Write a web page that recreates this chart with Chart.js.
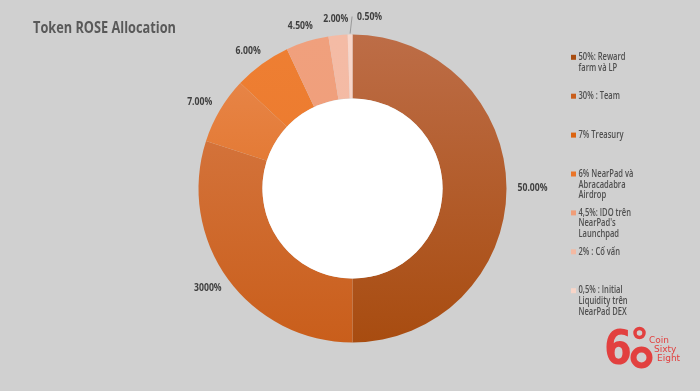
<!DOCTYPE html>
<html>
<head>
<meta charset="utf-8">
<script src="https://cdn.jsdelivr.net/npm/chart.js@4.4.0/dist/chart.umd.min.js"></script>
<style>
html,body{margin:0;padding:0;background:#d0d0d0;}
#wrap{position:relative;width:700px;height:391px;}
</style>
</head>
<body>
<div id="wrap"><canvas id="c" width="700" height="391"></canvas></div>
<script>
// ---- data ----
const titleText = "Token ROSE Allocation";
const categories = [
  ["50%: Reward", "farm và LP"],
  ["30% : Team"],
  ["7% Treasury"],
  ["6% NearPad và", "Abracadabra", "Airdrop"],
  ["4,5%: IDO trên", "NearPad's", "Launchpad"],
  ["2% : Cố vấn"],
  ["0,5% : Initial", "Liquidity trên", "NearPad DEX"]
];
const values = [50, 30, 7, 6, 4.5, 2, 0.5];
const valueLabels = ["50.00%", "3000%", "7.00%", "6.00%", "4.50%", "2.00%", "0.50%"];
const colorsTop = ["#bd6d47", "#d97d4a", "#e98a50", "#ee7f33", "#f0a07d", "#f4bba5", "#f8d6ca"];
const colorsBottom = ["#a84c10", "#c95e1b", "#dc6410", "#ea7528", "#f09d78", "#f4b9a2", "#f8d5c8"];

const ctxEl = document.getElementById('c');

function sliceColor(c) {
  const chart = c.chart;
  const a = chart.chartArea;
  if (!a) return colorsBottom[c.dataIndex];
  const g = chart.ctx.createLinearGradient(0, a.top, 0, a.bottom);
  g.addColorStop(0, colorsTop[c.dataIndex]);
  g.addColorStop(1, colorsBottom[c.dataIndex]);
  return g;
}

const decor = {
  id: 'decor',
  afterDatasetsDraw(chart) {
    const ctx = chart.ctx;
    const meta = chart.getDatasetMeta(0);
    ctx.save();
    // white hole
    const a0 = meta.data[0].getProps(['x', 'y', 'innerRadius'], true);
    ctx.fillStyle = "#ffffff";
    ctx.beginPath();
    ctx.arc(a0.x, a0.y, a0.innerRadius, 0, Math.PI * 2);
    ctx.fill();

    // value labels
    ctx.font = "bold 10.5px 'Open Sans', sans-serif";
    const vr = 30 / ctx.measureText("50.00%").width;
    ctx.fillStyle = "#3f3f3f";
    ctx.textAlign = "center";
    ctx.textBaseline = "middle";
    meta.data.forEach((arc, i) => {
      const p = arc.getProps(['x', 'y', 'startAngle', 'endAngle', 'outerRadius'], true);
      const mid = (p.startAngle + p.endAngle) / 2;
      const dx = Math.cos(mid), dy = Math.sin(mid);
      const txt = valueLabels[i];
      const w = ctx.measureText(txt).width * vr;
      const h = 10;
      if (i === values.length - 1) {
        const sx = p.x + dx * p.outerRadius, sy = p.y + dy * p.outerRadius;
        ctx.strokeStyle = "#8c8c8c";
        ctx.lineWidth = 0.8;
        ctx.beginPath();
        ctx.moveTo(sx, sy - 1);
        ctx.lineTo(sx + 2, sy - 18);
        ctx.stroke();
        ctx.fillText(txt, sx + 7 + w / 2, sy - 17.5, w);
        return;
      }
      const ar = p.outerRadius + 11;
      const ax = p.x + dx * ar, ay = p.y + dy * ar;
      ctx.fillText(txt, ax + dx * w / 2, ay + dy * h / 2, w);
    });

    // title
    ctx.font = "bold 15.5px 'Open Sans', sans-serif";
    ctx.fillStyle = "#595959";
    ctx.textAlign = "left";
    ctx.fillText(titleText, 33, 28.5, 143);

    // legend
    ctx.font = "600 9.8px 'Open Sans', sans-serif";
    const ref = ctx.measureText(categories[0][0]).width;
    const ratio = Math.min(1, 47 / ref);
    const startY = 57.3, step = 38.9, lh = 10.8;
    categories.forEach((lines, i) => {
      const y0 = startY + i * step;
      ctx.fillStyle = colorsBottom[i];
      ctx.fillRect(571, y0 - 2.5, 5, 5);
      ctx.fillStyle = "#4f4f4f";
      lines.forEach((ln, j) => {
        const mw = ctx.measureText(ln).width * ratio;
        ctx.fillText(ln, 578.5, y0 + j * lh, mw);
      });
    });

    // logo
    const red = "#e2403f";
    ctx.fillStyle = red;
    ctx.font = "bold 48px 'DejaVu Sans', sans-serif";
    ctx.textAlign = "left";
    ctx.textBaseline = "alphabetic";
    ctx.fillText("6", 604, 364, 28);
    ctx.strokeStyle = red;
    ctx.lineWidth = 3.5;
    ctx.beginPath(); ctx.arc(639.5, 333, 4.5, 0, Math.PI * 2); ctx.stroke();
    ctx.lineWidth = 6;
    ctx.beginPath(); ctx.arc(641.5, 357.5, 8, 0, Math.PI * 2); ctx.stroke();
    ctx.font = "9px 'DejaVu Sans', sans-serif";
    ctx.textBaseline = "middle";
    ctx.fillText("Coin", 649, 341);
    ctx.fillText("Sixty", 654, 350);
    ctx.fillText("Eight", 657, 359);
    ctx.restore();
  }
};

new Chart(ctxEl, {
  type: 'doughnut',
  data: {
    labels: categories,
    datasets: [{
      data: values,
      backgroundColor: sliceColor,
      borderWidth: 0
    }]
  },
  options: {
    responsive: false,
    animation: false,
    cutout: '58.5%',
    layout: { padding: { top: 34, bottom: 48, left: 198.5, right: 193.5 } },
    plugins: {
      legend: { display: false },
      tooltip: { enabled: false },
      title: { display: false }
    }
  },
  plugins: [decor]
});
</script>
</body>
</html>
